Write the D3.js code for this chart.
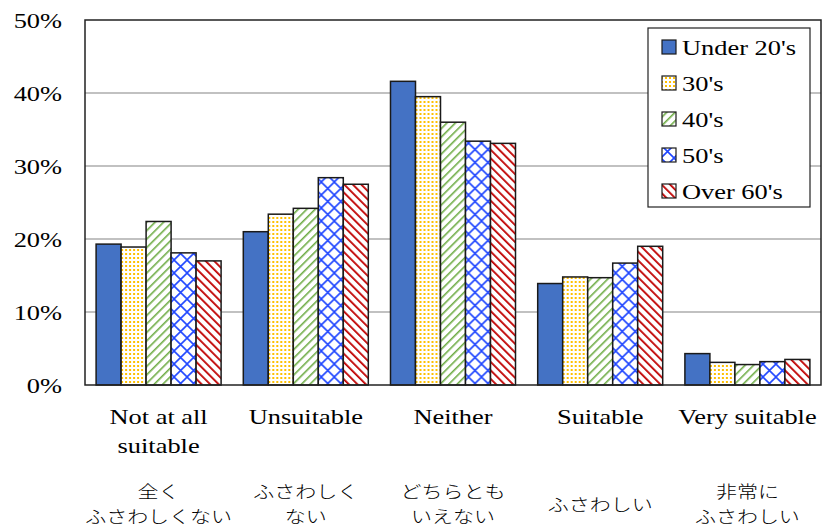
<!DOCTYPE html>
<html>
<head>
<meta charset="utf-8">
<script src="https://cdn.jsdelivr.net/npm/d3@7"></script>
<style>
  html, body { margin: 0; padding: 0; background: #fff; }
  svg { display: block; }
</style>
</head>
<body>
<svg id="chart" width="823" height="529"></svg>
<script>
// Survey answers by age group (share of respondents)
const categories = ["Not at all suitable", "Unsuitable", "Neither", "Suitable", "Very suitable"];
const categoryLinesEn = [["Not at all", "suitable"], ["Unsuitable"], ["Neither"], ["Suitable"], ["Very suitable"]];
const categoryLinesJa = [["全く", "ふさわしくない"], ["ふさわしく", "ない"], ["どちらとも", "いえない"], ["ふさわしい"], ["非常に", "ふさわしい"]];
const seriesNames = ["Under 20's", "30's", "40's", "50's", "Over 60's"];
const under20 = [19.3, 21.0, 41.6, 13.9, 4.3];
const age30s  = [18.9, 23.4, 39.5, 14.8, 3.1];
const age40s  = [22.4, 24.2, 36.0, 14.7, 2.8];
const age50s  = [18.1, 28.4, 33.4, 16.7, 3.2];
const over60  = [17.0, 27.5, 33.1, 19.0, 3.5];
const yTicks = [0, 10, 20, 30, 40, 50];

const seriesValues = [under20, age30s, age40s, age50s, over60];

const SERIF = '"Liberation Serif"';
const JP = '"Noto Sans CJK JP"';

const svg = d3.select("#chart");
const margin = { left: 85, right: 2, top: 20, bottom: 144 };
const W = 823, H = 529;
const x0 = margin.left, x1 = W - margin.right;
const yTop = margin.top, yBot = H - margin.bottom;
const SX = 1.2; // horizontal text stretch

const x = d3.scaleBand().domain(categories).range([x0, x1]).paddingInner(0).paddingOuter(0);
const barW = 25;
const xs = d3.scaleBand().domain(seriesNames).range([0, barW * seriesNames.length]);
const groupOffset = (x.bandwidth() - barW * seriesNames.length) / 2;
const y = d3.scaleLinear().domain([0, 50]).range([yBot, yTop]);

// Fill patterns
const defs = svg.append("defs");
const pDots = defs.append("pattern").attr("id", "p30").attr("patternUnits", "userSpaceOnUse")
  .attr("width", 4).attr("height", 4);
pDots.append("rect").attr("width", 4).attr("height", 4).attr("fill", "#fff");
pDots.append("rect").attr("x", 1).attr("y", 1).attr("width", 2).attr("height", 2).attr("fill", "#FFC000");

const pGreen = defs.append("pattern").attr("id", "p40").attr("patternUnits", "userSpaceOnUse")
  .attr("width", 6).attr("height", 6).attr("patternTransform", "rotate(45)");
pGreen.append("rect").attr("width", 6).attr("height", 6).attr("fill", "#fff");
pGreen.append("rect").attr("x", 0).attr("y", 0).attr("width", 1.6).attr("height", 6).attr("fill", "#70AD47");

const pBlue = defs.append("pattern").attr("id", "p50").attr("patternUnits", "userSpaceOnUse")
  .attr("width", 13).attr("height", 13);
pBlue.append("rect").attr("width", 13).attr("height", 13).attr("fill", "#fff");
pBlue.append("path").attr("d", "M0,0 L13,13 M13,0 L0,13").attr("stroke", "#1F46FF").attr("stroke-width", 1.6).attr("fill", "none");

const pRed = defs.append("pattern").attr("id", "p60").attr("patternUnits", "userSpaceOnUse")
  .attr("width", 6).attr("height", 6).attr("patternTransform", "rotate(-45)");
pRed.append("rect").attr("width", 6).attr("height", 6).attr("fill", "#fff");
pRed.append("rect").attr("x", 0).attr("y", 0).attr("width", 1.8).attr("height", 6).attr("fill", "#C00000");

const fills = ["#4472C4", "url(#p30)", "url(#p40)", "url(#p50)", "url(#p60)"];

// Gridlines
svg.append("g").selectAll("line").data(yTicks.filter(t => t > 0 && t < 50)).join("line")
  .attr("x1", x0).attr("x2", x1)
  .attr("y1", d => y(d)).attr("y2", d => y(d))
  .attr("stroke", "#ADADAD").attr("stroke-width", 1.5);

// Y axis labels (built from an axis, then stretched horizontally)
const yAxis = d3.axisLeft(y).tickValues(yTicks).tickFormat(d => d + "%").tickSize(0).tickPadding(0);
const gy = svg.append("g").attr("transform", `translate(${x0 - 23},0)`).call(yAxis);
gy.select(".domain").remove();
gy.attr("font-family", null);
gy.selectAll(".tick text")
  .style("font-family", SERIF).style("font-size", "22px").attr("fill", "#000")
  .attr("transform", `scale(${SX},1)`);

// Bars
const groups = svg.append("g").selectAll("g").data(categories).join("g")
  .attr("transform", d => `translate(${x(d) + groupOffset},0)`);
groups.selectAll("rect").data((c, ci) => seriesNames.map((s, si) => ({ s, si, v: seriesValues[si][ci] })))
  .join("rect")
  .attr("x", d => xs(d.s))
  .attr("width", xs.bandwidth())
  .attr("y", d => y(d.v))
  .attr("height", d => y(0) - y(d.v))
  .attr("fill", d => fills[d.si])
  .attr("stroke", "#1a1a1a").attr("stroke-width", 1.5);

// Plot frame
svg.append("rect").attr("x", x0).attr("y", yTop).attr("width", x1 - x0).attr("height", yBot - yTop)
  .attr("fill", "none").attr("stroke", "#222").attr("stroke-width", 1.5);

// Category labels
const catG = svg.append("g");
categories.forEach((c, i) => {
  const cx = x(c) + x.bandwidth() / 2;
  const g = catG.append("g").attr("transform", `translate(${cx},0) scale(${SX},1)`);
  const t = g.append("text").attr("x", 0).attr("y", 424).attr("text-anchor", "middle")
    .style("font-family", SERIF).style("font-size", "22px").attr("fill", "#000");
  categoryLinesEn[i].forEach((ln, k) => {
    t.append("tspan").attr("x", 0).attr("dy", k === 0 ? 0 : 29).text(ln);
  });
  const ja = categoryLinesJa[i];
  const jt = g.append("text").attr("x", 0).attr("text-anchor", "middle")
    .attr("y", ja.length === 1 ? 511 : 498)
    .style("font-family", JP).style("font-weight", 300).style("font-size", "17.5px").attr("fill", "#000");
  ja.forEach((ln, k) => {
    jt.append("tspan").attr("x", 0).attr("dy", k === 0 ? 0 : 25).text(ln);
  });
});

// Legend
const lg = svg.append("g").attr("transform", "translate(648,28)");
lg.append("rect").attr("width", 162).attr("height", 179).attr("fill", "#fff")
  .attr("stroke", "#222").attr("stroke-width", 1.2);
seriesNames.forEach((s, i) => {
  const cy = 19 + i * 36;
  lg.append("rect").attr("x", 14).attr("y", cy - 7).attr("width", 14).attr("height", 14)
    .attr("fill", fills[i]).attr("stroke", "#1a1a1a").attr("stroke-width", 1.2);
  lg.append("g").attr("transform", `translate(34,${cy + 8}) scale(${SX},1)`)
    .append("text").style("font-family", SERIF).style("font-size", "22px").attr("fill", "#000").text(s);
});
</script>
</body>
</html>
